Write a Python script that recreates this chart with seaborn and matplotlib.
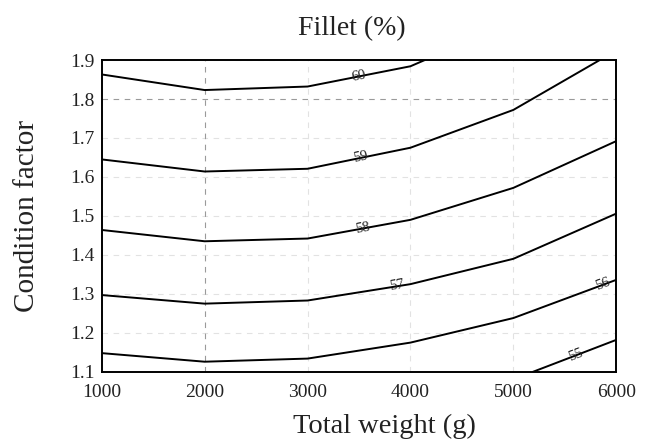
import numpy as np
import pandas as pd
import matplotlib
matplotlib.use("Agg")
import matplotlib.pyplot as plt
import matplotlib.transforms as mtransforms
import seaborn as sns

# Iso-lines of fillet yield (%) over total weight (g) and condition factor
weight_ticks = [1000, 2000, 3000, 4000, 5000, 6000]
cf_ticks = [1.1, 1.2, 1.3, 1.4, 1.5, 1.6, 1.7, 1.8, 1.9]

w60 = [1000, 2000, 3000, 4000, 4140]
cf60 = [1.863, 1.823, 1.832, 1.884, 1.900]
w59 = [1000, 2000, 3000, 4000, 5000, 5840]
cf59 = [1.645, 1.614, 1.621, 1.675, 1.772, 1.900]
w58 = [1000, 2000, 3000, 4000, 5000, 6000]
cf58 = [1.464, 1.435, 1.442, 1.490, 1.572, 1.692]
w57 = [1000, 2000, 3000, 4000, 5000, 6000]
cf57 = [1.297, 1.275, 1.283, 1.325, 1.390, 1.506]
w56 = [1000, 2000, 3000, 4000, 5000, 6000]
cf56 = [1.148, 1.126, 1.134, 1.175, 1.238, 1.336]
w55 = [5190, 6000]
cf55 = [1.100, 1.182]

levels = [60, 59, 58, 57, 56, 55]
line_w = [w60, w59, w58, w57, w56, w55]
line_cf = [cf60, cf59, cf58, cf57, cf56, cf55]
label_w = [3500, 3520, 3540, 3870, 5880, 5620]

df = pd.concat(
    [pd.DataFrame({"weight": w, "cf": c, "level": lv})
     for lv, w, c in zip(levels, line_w, line_cf)],
    ignore_index=True,
)

sns.set_theme(style="white")
plt.rcParams["font.family"] = ["Liberation Serif", "DejaVu Serif"]

fig = plt.figure(figsize=(6.48, 4.48), dpi=100)
ax = fig.add_axes([0.157, 0.170, 0.794, 0.696])

# dashed reference grid
for t in cf_ticks:
    strong = abs(t - 1.8) < 1e-9
    ax.axhline(t, ls=(0, (5, 5)), lw=0.8,
               color="#9a9a9a" if strong else "#e2e2e2", zorder=0)
for t in weight_ticks:
    strong = t == 2000
    ax.axvline(t, ls=(0, (5, 5)), lw=0.8,
               color="#9a9a9a" if strong else "#e2e2e2", zorder=0)

sns.lineplot(data=df, x="weight", y="cf", units="level", estimator=None,
             color="black", lw=1.4, ax=ax, legend=False)

ax.set_xlim(1000, 6000)
ax.set_ylim(1.1, 1.9)
ax.set_xticks(weight_ticks)
ax.set_xticklabels([str(t) for t in weight_ticks])
ax.set_yticks(cf_ticks)
ax.set_yticklabels([f"{t:.1f}" for t in cf_ticks])
ax.tick_params(axis="both", length=0, labelsize=14, colors="#222222")
ax.tick_params(axis="x", pad=9)
ax.tick_params(axis="y", pad=5)

for s in ax.spines.values():
    s.set_color("black")
    s.set_linewidth(1.4)

ax.set_xlabel("Total weight (g)", fontsize=20.5, color="#222222")
ax.xaxis.set_label_coords(0.55, -0.135)
ax.set_ylabel("Condition factor", fontsize=21, labelpad=22, color="#222222")
ax.set_title("Fillet (%)", fontsize=20, pad=18, color="#222222", x=0.487)

# inline level labels, rotated along each line
shift = mtransforms.offset_copy(ax.transData, fig=fig, x=0, y=-3, units="dots")
for lv, w, c, xl in zip(levels, line_w, line_cf, label_w):
    yl = np.interp(xl, w, c)
    p1 = ax.transData.transform((xl - 60, np.interp(xl - 60, w, c)))
    p2 = ax.transData.transform((xl + 60, np.interp(xl + 60, w, c)))
    ang = np.degrees(np.arctan2(p2[1] - p1[1], p2[0] - p1[0]))
    ax.text(xl, yl, str(lv), fontsize=10.5, ha="center", va="baseline",
            rotation=ang, rotation_mode="anchor", transform=shift,
            color="#222222")

fig.savefig("out.png", dpi=100)
